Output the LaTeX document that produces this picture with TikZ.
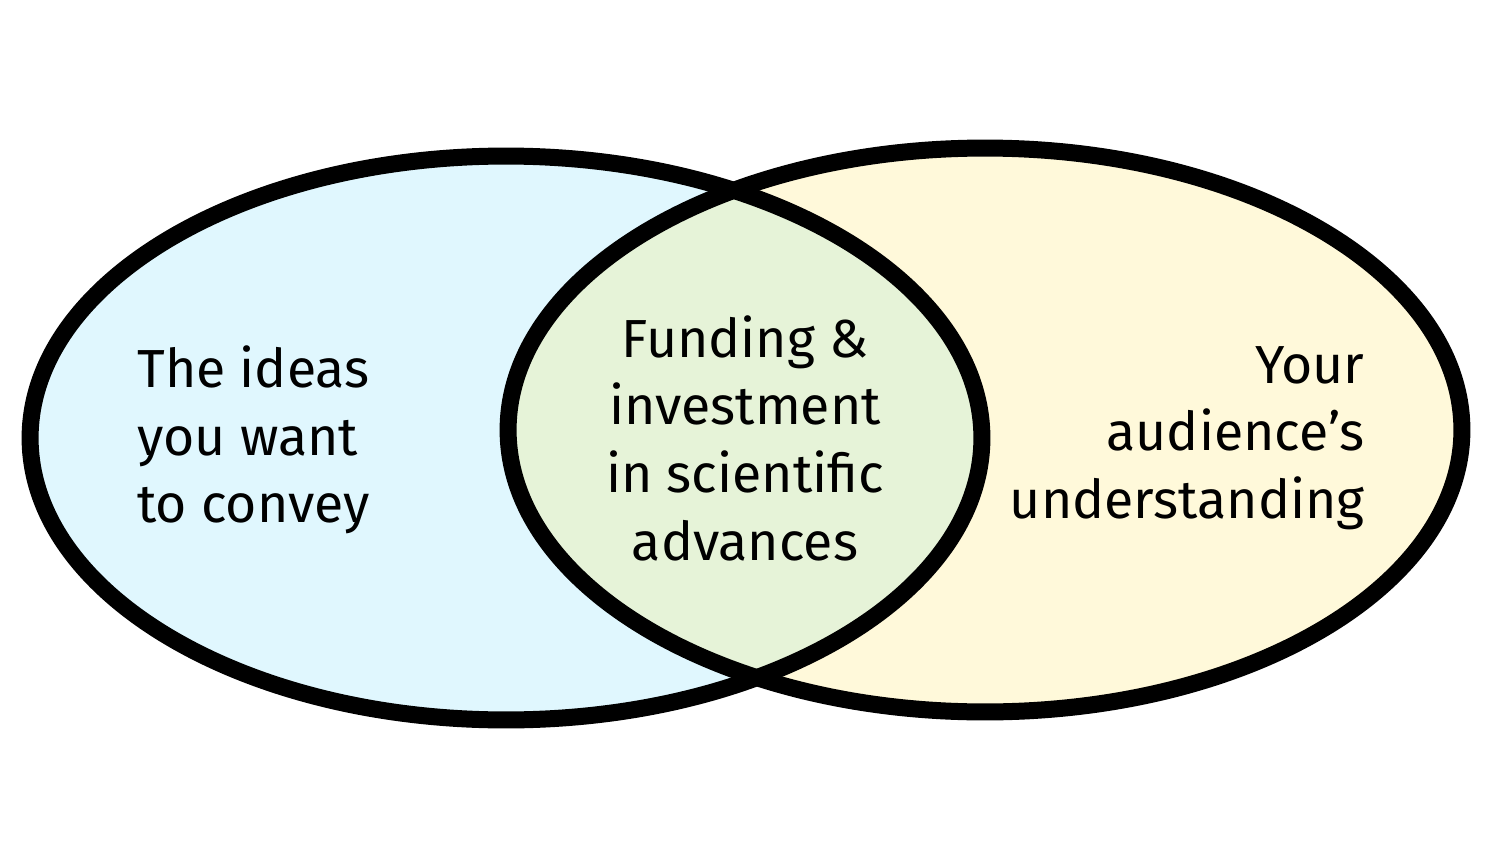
\documentclass[tikz,border=0pt]{standalone}
\usepackage{fontspec}
\setmainfont{Fira Sans}
\usepackage{tikz}
\definecolor{ideablue}{RGB}{224,247,254}
\definecolor{audienceyellow}{RGB}{255,249,218}
\definecolor{overlapgreen}{RGB}{230,243,216}

\begin{document}
\begin{tikzpicture}[
 x=0.02cm,y=-0.02cm,
 rim/.style={draw=black,line width=0.34cm},
 lbl/.style={inner sep=0pt,font=\fontsize{30.5}{38.5}\selectfont}
]
\useasboundingbox (0,0) rectangle (1496,841);
\coordinate (ideas) at (506,438);
\coordinate (audience) at (985,430);
\fill[ideablue] (ideas) ellipse [x radius=9.52cm,y radius=5.64cm];
\fill[audienceyellow] (audience) ellipse [x radius=9.54cm,y radius=5.64cm];
\begin{scope}
 \clip (ideas) ellipse [x radius=9.52cm,y radius=5.64cm];
 \fill[overlapgreen] (audience) ellipse [x radius=9.54cm,y radius=5.64cm];
\end{scope}
\draw[rim] (ideas) ellipse [x radius=9.52cm,y radius=5.64cm];
\draw[rim] (audience) ellipse [x radius=9.54cm,y radius=5.64cm];
\node[lbl,align=left,anchor=west] (convey) at (137,440) {The ideas\\you want\\to convey};
\node[lbl,align=center] (funding) at (745,438) {Funding \&\\investment\\in scienti{}fic\\advances};
\node[lbl,align=right,anchor=east] (understand) at (1365,438) {Your\\audience’s\\understanding};
\end{tikzpicture}
\end{document}
